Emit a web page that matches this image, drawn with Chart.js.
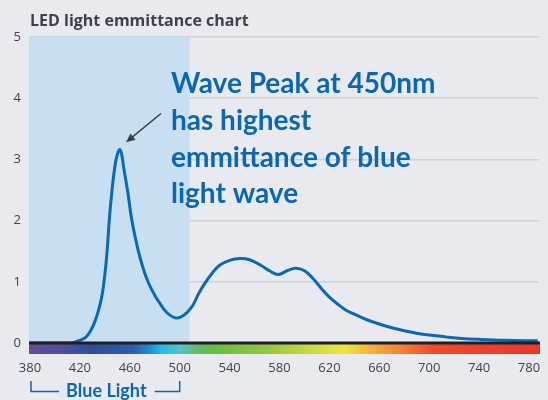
<!DOCTYPE html>
<html>
<head>
<meta charset="utf-8">
<script src="https://cdn.jsdelivr.net/npm/chart.js@4/dist/chart.umd.min.js"></script>
<style>
  html, body { margin: 0; padding: 0; background: #e9eaef; }
  #wrap { width: 548px; height: 400px; }
</style>
</head>
<body>
<div id="wrap"><canvas id="ledChart" width="548" height="400"></canvas></div>
<script>
// wavelength (nm) and relative emittance
const wavelengths = [380, 395, 410, 415, 418, 421.5, 425, 428, 431, 434, 437.5, 440, 442, 443.5, 445.5, 448, 450, 452, 453.5, 455, 458.5, 461.5, 466.5, 471, 475, 480, 484, 490, 497, 503, 510, 515, 520, 526, 532, 540, 548, 556, 565, 572, 579, 586, 593, 600, 607, 614, 620, 627, 633, 640, 650, 660, 670, 680, 690, 700, 713, 726, 740, 760, 787];
const emittance = [0, 0, 0, 0.01, 0.03, 0.055, 0.1, 0.18, 0.3, 0.47, 0.75, 1.12, 1.55, 2.0, 2.45, 2.88, 3.08, 3.16, 3.08, 2.88, 2.45, 2.02, 1.53, 1.2, 0.98, 0.78, 0.65, 0.49, 0.41, 0.45, 0.6, 0.8, 0.97, 1.14, 1.27, 1.35, 1.38, 1.36, 1.27, 1.18, 1.12, 1.18, 1.22, 1.18, 1.05, 0.88, 0.75, 0.63, 0.54, 0.47, 0.38, 0.31, 0.25, 0.2, 0.16, 0.13, 0.1, 0.075, 0.06, 0.045, 0.035];

const xTicks = [380, 420, 460, 500, 540, 580, 620, 660, 700, 740, 780];
const yTicks = [0, 1, 2, 3, 4, 5];
const blueBand = [380, 508];
const bracketRange = [380, 500];

const chartTitle = 'LED light emmittance chart';
const noteLines = ['Wave Peak at 450nm', 'has highest', 'emmittance of blue', 'light wave'];
const bandLabel = 'Blue Light';
const arrowTail = [485, 3.75];
const arrowTip = [457, 3.28];

const blue = '#0b67b2';
const textGrey = '#3f444f';

const spectrumStops = [
    [380, '#6c4a9c'], [410, '#46509f'], [430, '#2e4d9c'], [462, '#2d5ca9'],
    [476, '#1c8fd3'], [485, '#1fbbe9'], [500, '#53c4c5'], [514, '#64bb6a'],
    [528, '#69bb45'], [570, '#96c640'], [605, '#cbd93f'], [632, '#ece63f'],
    [652, '#f4b43a'], [680, '#f27c35'], [703, '#ee4a2d'], [788, '#e8392b']
];

const decorPlugin = {
    id: 'decor',
    beforeDraw(chart) {
        const ctx = chart.ctx;
        ctx.save();
        ctx.fillStyle = '#e9eaef';
        ctx.fillRect(0, 0, chart.width, chart.height);
        ctx.restore();
    },
    beforeDatasetsDraw(chart) {
        const { ctx, chartArea, scales: { x } } = chart;
        ctx.save();
        const x0 = x.getPixelForValue(blueBand[0]) - 1;
        const x1 = x.getPixelForValue(blueBand[1]);
        ctx.fillStyle = '#c8dff2';
        ctx.fillRect(x0, chartArea.top, x1 - x0, chartArea.bottom - chartArea.top);
        ctx.restore();
    },
    afterDatasetsDraw(chart) {
        const { ctx, chartArea, scales: { x, y } } = chart;
        const left = chartArea.left - 1;
        const right = chartArea.right + 1;
        ctx.save();

        // spectrum strip under the baseline
        const grad = ctx.createLinearGradient(left, 0, right, 0);
        spectrumStops.forEach(function(s) {
            const p = (x.getPixelForValue(s[0]) - left) / (right - left);
            grad.addColorStop(Math.min(1, Math.max(0, p)), s[1]);
        });
        ctx.fillStyle = grad;
        ctx.fillRect(left, chartArea.bottom + 1, right - left, 10);

        // baseline
        ctx.fillStyle = '#1f2024';
        ctx.fillRect(left, chartArea.bottom - 1.5, right - left, 3);

        // title
        ctx.fillStyle = '#3d424d';
        ctx.font = 'bold 16px "Open Sans", sans-serif';
        ctx.textBaseline = 'alphabetic';
        ctx.textAlign = 'left';
        ctx.fillText(chartTitle, 30, 26);

        // note text
        ctx.fillStyle = blue;
        ctx.font = 'bold 28px Lato, sans-serif';
        const baselines = [93, 130, 167, 203];
        noteLines.forEach(function(line, i) {
            ctx.fillText(line, 171, baselines[i]);
        });

        // arrow
        const tx = x.getPixelForValue(arrowTail[0]), ty = y.getPixelForValue(arrowTail[1]);
        const hx = x.getPixelForValue(arrowTip[0]), hy = y.getPixelForValue(arrowTip[1]);
        const ang = Math.atan2(hy - ty, hx - tx);
        ctx.strokeStyle = '#3b3e47';
        ctx.fillStyle = '#3b3e47';
        ctx.lineWidth = 1.5;
        ctx.beginPath();
        ctx.moveTo(tx, ty);
        ctx.lineTo(hx - 6 * Math.cos(ang), hy - 6 * Math.sin(ang));
        ctx.stroke();
        ctx.beginPath();
        ctx.moveTo(hx, hy);
        ctx.lineTo(hx - 9 * Math.cos(ang) + 4 * Math.sin(ang), hy - 9 * Math.sin(ang) - 4 * Math.cos(ang));
        ctx.lineTo(hx - 9 * Math.cos(ang) - 4 * Math.sin(ang), hy - 9 * Math.sin(ang) + 4 * Math.cos(ang));
        ctx.closePath();
        ctx.fill();

        // Blue Light bracket
        const bx0 = x.getPixelForValue(bracketRange[0]) + 1;
        const bx1 = x.getPixelForValue(bracketRange[1]);
        const by = 391.5;
        ctx.font = 'bold 18px Lato, sans-serif';
        ctx.textAlign = 'center';
        const mid = (bx0 + bx1) / 2 + 1;
        const tw = ctx.measureText(bandLabel).width;
        ctx.fillStyle = blue;
        ctx.fillText(bandLabel, mid, 397);
        ctx.strokeStyle = blue;
        ctx.lineWidth = 1.5;
        ctx.beginPath();
        ctx.moveTo(bx0, 381);
        ctx.lineTo(bx0, by);
        ctx.lineTo(mid - tw / 2 - 7, by);
        ctx.moveTo(mid + tw / 2 + 8, by);
        ctx.lineTo(bx1, by);
        ctx.lineTo(bx1, 381);
        ctx.stroke();

        ctx.restore();
    }
};

new Chart(document.getElementById('ledChart'), {
    type: 'line',
    data: {
        datasets: [{
            label: 'Emittance',
            data: wavelengths.map((w, i) => ({ x: w, y: emittance[i] })),
            borderColor: '#0a69b5',
            borderWidth: 3,
            pointRadius: 0,
            fill: false,
            tension: 0.4
        }]
    },
    options: {
        responsive: false,
        animation: false,
        devicePixelRatio: 1,
        layout: { padding: { top: 37, right: 9, left: 0, bottom: 0 } },
        plugins: {
            legend: { display: false },
            title: { display: false },
            tooltip: { enabled: false }
        },
        scales: {
            x: {
                type: 'linear',
                min: 380,
                max: 788,
                afterBuildTicks: function(scale) {
                    scale.ticks = xTicks.map(v => ({ value: v }));
                },
                afterFit: function(scale) {
                    scale.height = 57;
                    scale.paddingLeft = 0;
                    scale.paddingRight = 0;
                },
                grid: { display: false, drawTicks: false },
                border: { display: false },
                ticks: {
                    padding: 17,
                    maxRotation: 0,
                    color: textGrey,
                    font: { family: '"Open Sans", sans-serif', size: 13 }
                }
            },
            y: {
                min: 0,
                max: 5,
                afterBuildTicks: function(scale) {
                    scale.ticks = yTicks.map(v => ({ value: v }));
                },
                afterFit: function(scale) { scale.width = 30; },
                grid: { color: '#cfd1d6', lineWidth: 1.5, drawTicks: false },
                border: { display: false },
                ticks: {
                    padding: 9,
                    color: textGrey,
                    font: { family: '"Open Sans", sans-serif', size: 13 }
                }
            }
        }
    },
    plugins: [decorPlugin]
});
</script>
</body>
</html>
